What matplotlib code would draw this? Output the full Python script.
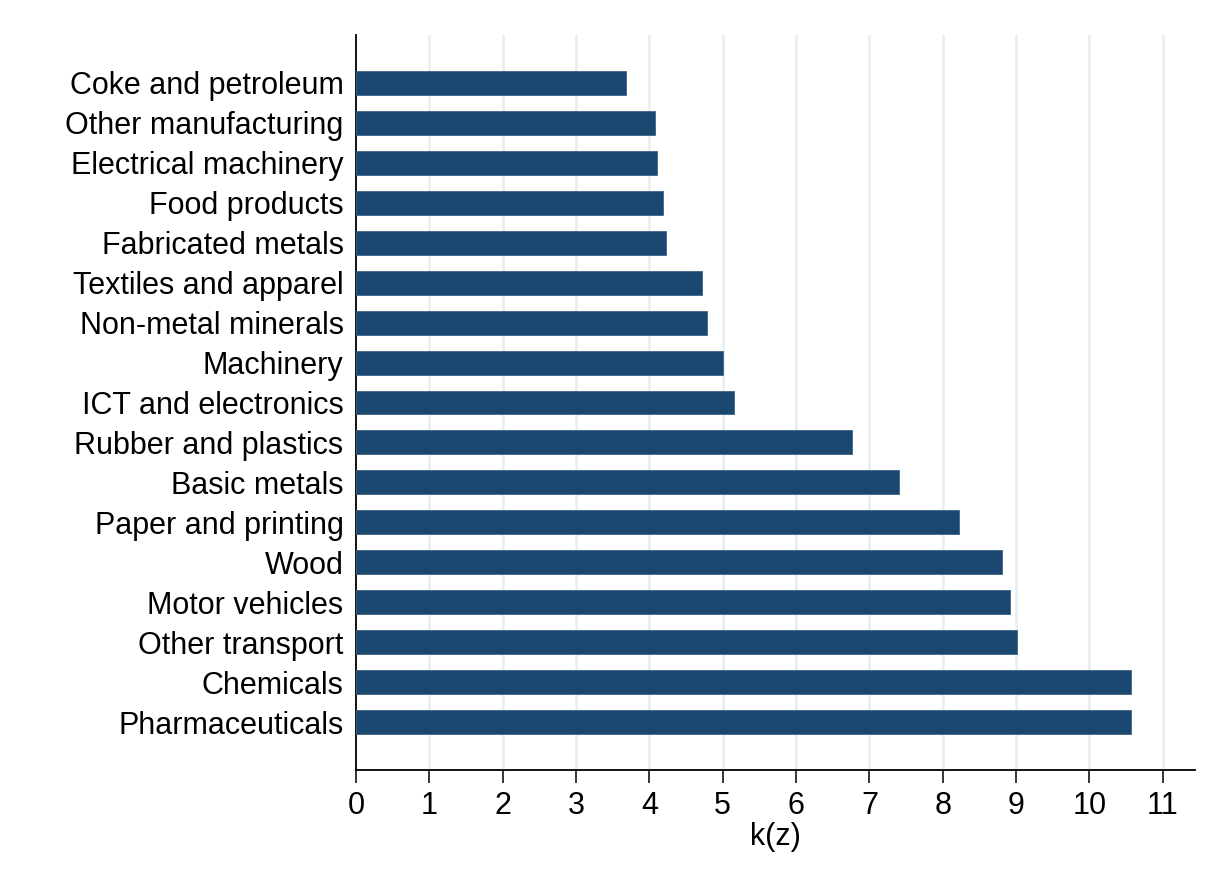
import matplotlib.pyplot as plt

# sectors, top to bottom, with their k(z) values
sectors = [
    "Coke and petroleum", "Other manufacturing", "Electrical machinery",
    "Food products", "Fabricated metals", "Textiles and apparel",
    "Non-metal minerals", "Machinery", "ICT and electronics",
    "Rubber and plastics", "Basic metals", "Paper and printing", "Wood",
    "Motor vehicles", "Other transport", "Chemicals", "Pharmaceuticals",
]
kz = [3.68, 4.07, 4.11, 4.18, 4.22, 4.72, 4.79, 5.01, 5.15,
      6.76, 7.40, 8.22, 8.81, 8.92, 9.01, 10.57, 10.57]
xticks = list(range(0, 12))

plt.rcParams['font.family'] = ['Liberation Sans', 'DejaVu Sans']
fs = 22

fig = plt.figure(figsize=(12.26, 8.84), dpi=100)
ax = fig.add_axes([0.2904, 0.129, 0.9747 - 0.2904, 0.9604 - 0.129])

ypos = list(range(len(sectors)))
ax.barh(ypos, kz, height=0.6, color='#1a476f', edgecolor='#3d6488',
        linewidth=0.6, zorder=3)

ax.set_ylim(len(sectors) - 1 + 1.2, -1.2)
ax.set_xlim(0, 11.44)
ax.set_yticks(ypos)
ax.set_yticklabels(sectors, fontsize=fs)
ax.set_xticks(xticks)
ax.set_xticklabels([str(t) for t in xticks], fontsize=fs)
ax.set_xlabel('k(z)', fontsize=fs, labelpad=1)

ax.tick_params(axis='y', length=0, pad=9)
ax.tick_params(axis='x', length=9, width=1.1, pad=6, direction='out')

for t in xticks[1:]:
    ax.axvline(t, color='#e8eff2', linewidth=2, zorder=1)

for side in ['top', 'right']:
    ax.spines[side].set_visible(False)
for side in ['left', 'bottom']:
    ax.spines[side].set_linewidth(1.3)
    ax.spines[side].set_color('black')

fig.savefig('out.png', dpi=100, facecolor='white')
